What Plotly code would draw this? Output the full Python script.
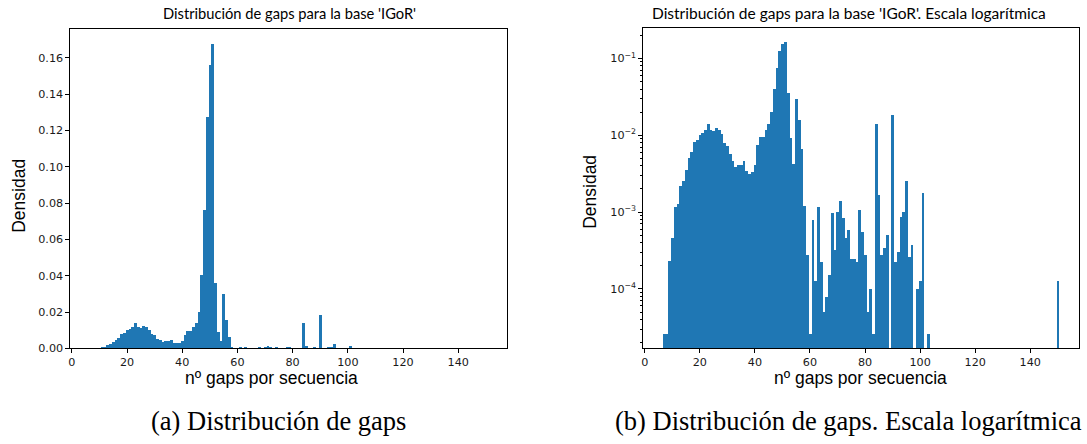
import plotly.graph_objects as go

# ---- data ----
gap_values = list(range(7, 151))  # nº gaps per sequence (bin centres)
density = [
    2.6e-5, 2.6e-5, 2.32e-4, 4.6e-4, 1.17e-3, 1.29e-3, 2.22e-3, 2.57e-3, 3.6e-3, 5.1e-3,      # 7-16
    6.2e-3, 8.4e-3, 8.8e-3, 1.03e-2, 1.07e-2, 1.18e-2, 1.40e-2, 1.18e-2, 1.15e-2, 1.26e-2,    # 17-26
    1.18e-2, 1.04e-2, 8.1e-3, 7.4e-3, 5.7e-3, 4.7e-3, 3.9e-3, 4.1e-3, 4.2e-3, 4.7e-3,         # 27-36
    3.5e-3, 3.2e-3, 3.35e-3, 4.1e-3, 7.6e-3, 9.7e-3, 9.6e-3, 1.18e-2, 1.40e-2, 2.05e-2,       # 37-46
    4.09e-2, 7.63e-2, 0.128, 0.1566, 0.1678, 0.0363, 0.0094, 0.0043, 0.030, 0.0159,           # 47-56
    0.0067, 1.23e-3, 2.8e-4, 2.6e-5, 8.1e-4, 1.29e-4, 1.17e-3, 2.28e-4, 5.1e-5, 8.0e-5,       # 57-66
    1.55e-4, 9.8e-4, 3.3e-4, 1.03e-3, 1.42e-3, 8.5e-4, 4.6e-4, 6.0e-4, 2.5e-4, 2.5e-4,        # 67-76
    2.3e-4, 1.07e-3, 5.5e-4, 2.8e-4, 5.1e-5, 1.02e-4, 2.6e-5, 0.0143, 1.7e-3, 2.8e-4,         # 77-86
    3.5e-4, 5.1e-4, 0, 0.0187, 2.3e-4, 3.05e-4, 8.7e-4, 1.03e-3, 2.6e-3, 2.6e-4,              # 87-96
    3.8e-4, 0, 1.02e-4, 1.29e-4, 1.77e-3, 0, 2.6e-5, 0, 0, 0,                                 # 97-106
    0, 0, 0, 0, 0, 0, 0, 0, 0, 0,                                                             # 107-116
    0, 0, 0, 0, 0, 0, 0, 0, 0, 0,                                                             # 117-126
    0, 0, 0, 0, 0, 0, 0, 0, 0, 0,                                                             # 127-136
    0, 0, 0, 0, 0, 0, 0, 0, 0, 0,                                                             # 137-146
    0, 0, 0, 1.29e-4,                                                                         # 147-150
]
x_ticks = [0, 20, 40, 60, 80, 100, 120, 140]
y_ticks_lin = [0.00, 0.02, 0.04, 0.06, 0.08, 0.10, 0.12, 0.14, 0.16]
y_ticks_log = [1e-4, 1e-3, 1e-2, 1e-1]
y_ticks_log_text = ["10<sup>−4</sup>", "10<sup>−3</sup>", "10<sup>−2</sup>", "10<sup>−1</sup>"]

title_left = "Distribución de gaps para la base 'IGoR'"
title_right = "Distribución de gaps para la base 'IGoR'. Escala logarítmica"
xlabel = "nº gaps por secuencia"
ylabel = "Densidad"
caption_a = "(a) Distribución de gaps"
caption_b = "(b) Distribución de gaps. Escala logarítmica"

# ---- layout geometry ----
W, H = 1087, 444
BLUE = "#1f77b4"

def px(x):
    return x / W

def py(y):
    return 1 - y / H

minor_log = [m * 10 ** e for e in range(-5, 0) for m in range(2, 10)]

fig = go.Figure()
fig.add_trace(go.Bar(x=gap_values, y=density, width=1, marker=dict(color=BLUE, line=dict(width=0)),
                     xaxis="x", yaxis="y", showlegend=False))
fig.add_trace(go.Bar(x=gap_values, y=density, width=1, marker=dict(color=BLUE, line=dict(width=0)),
                     xaxis="x2", yaxis="y2", showlegend=False))

tickfont = dict(family="DejaVu Sans", size=11.2, color="#1a1a1a")
axis_common = dict(showline=True, mirror=True, linecolor="black", linewidth=1,
                   ticks="outside", ticklen=3.5, tickwidth=0.8, tickcolor="black",
                   showgrid=False, zeroline=False, tickfont=tickfont)

fig.update_layout(
    width=W, height=H, autosize=False,
    margin=dict(l=0, r=0, t=0, b=0),
    paper_bgcolor="white", plot_bgcolor="white",
    bargap=0,
    xaxis=dict(domain=[px(68), px(506)], range=[-0.7, 157.7], anchor="y",
               tickvals=x_ticks, **axis_common),
    yaxis=dict(domain=[py(354), py(29)], range=[0, 0.1762], anchor="x",
               tickvals=y_ticks_lin, tickformat=".2f", **axis_common),
    xaxis2=dict(domain=[px(642), px(1079)], range=[-0.7, 157.7], anchor="y2",
                tickvals=x_ticks, **axis_common),
    yaxis2=dict(domain=[py(354), py(28)], type="log", range=[-4.775, -0.598], anchor="x2",
                tickvals=y_ticks_log, ticktext=y_ticks_log_text,
                minor=dict(tickmode="array", tickvals=minor_log, ticks="outside",
                           ticklen=2, tickwidth=0.6, tickcolor="black"),
                **axis_common),
)

ann = []
ann.append(dict(text=title_left, x=px(288), y=py(13), xref="paper", yref="paper",
                showarrow=False, xanchor="center", yanchor="middle",
                font=dict(family="Lato", size=14.7, color="black")))
ann.append(dict(text=title_right, x=px(849), y=py(13), xref="paper", yref="paper",
                showarrow=False, xanchor="center", yanchor="middle",
                font=dict(family="Lato", size=15.5, color="black")))
label_font = dict(family="Liberation Sans", size=17.5, color="black")
ann.append(dict(text=xlabel, x=px(270), y=py(384), xref="paper", yref="paper",
                showarrow=False, xanchor="center", yanchor="middle", font=label_font))
ann.append(dict(text=xlabel, x=px(860), y=py(384), xref="paper", yref="paper",
                showarrow=False, xanchor="center", yanchor="middle", font=label_font))
ann.append(dict(text=ylabel, x=px(17), y=py(199), xref="paper", yref="paper", textangle=-90,
                showarrow=False, xanchor="center", yanchor="middle", font=label_font))
ann.append(dict(text=ylabel, x=px(589), y=py(195), xref="paper", yref="paper", textangle=-90,
                showarrow=False, xanchor="center", yanchor="middle", font=label_font))
cap_font = dict(family="Liberation Serif", size=26.5, color="black")
ann.append(dict(text=caption_a, x=px(277), y=py(428), xref="paper", yref="paper",
                showarrow=False, xanchor="center", yanchor="middle", font=cap_font))
ann.append(dict(text=caption_b, x=px(848), y=py(428), xref="paper", yref="paper",
                showarrow=False, xanchor="center", yanchor="middle", font=cap_font))
fig.update_layout(annotations=ann)

fig.write_html("out.html")
